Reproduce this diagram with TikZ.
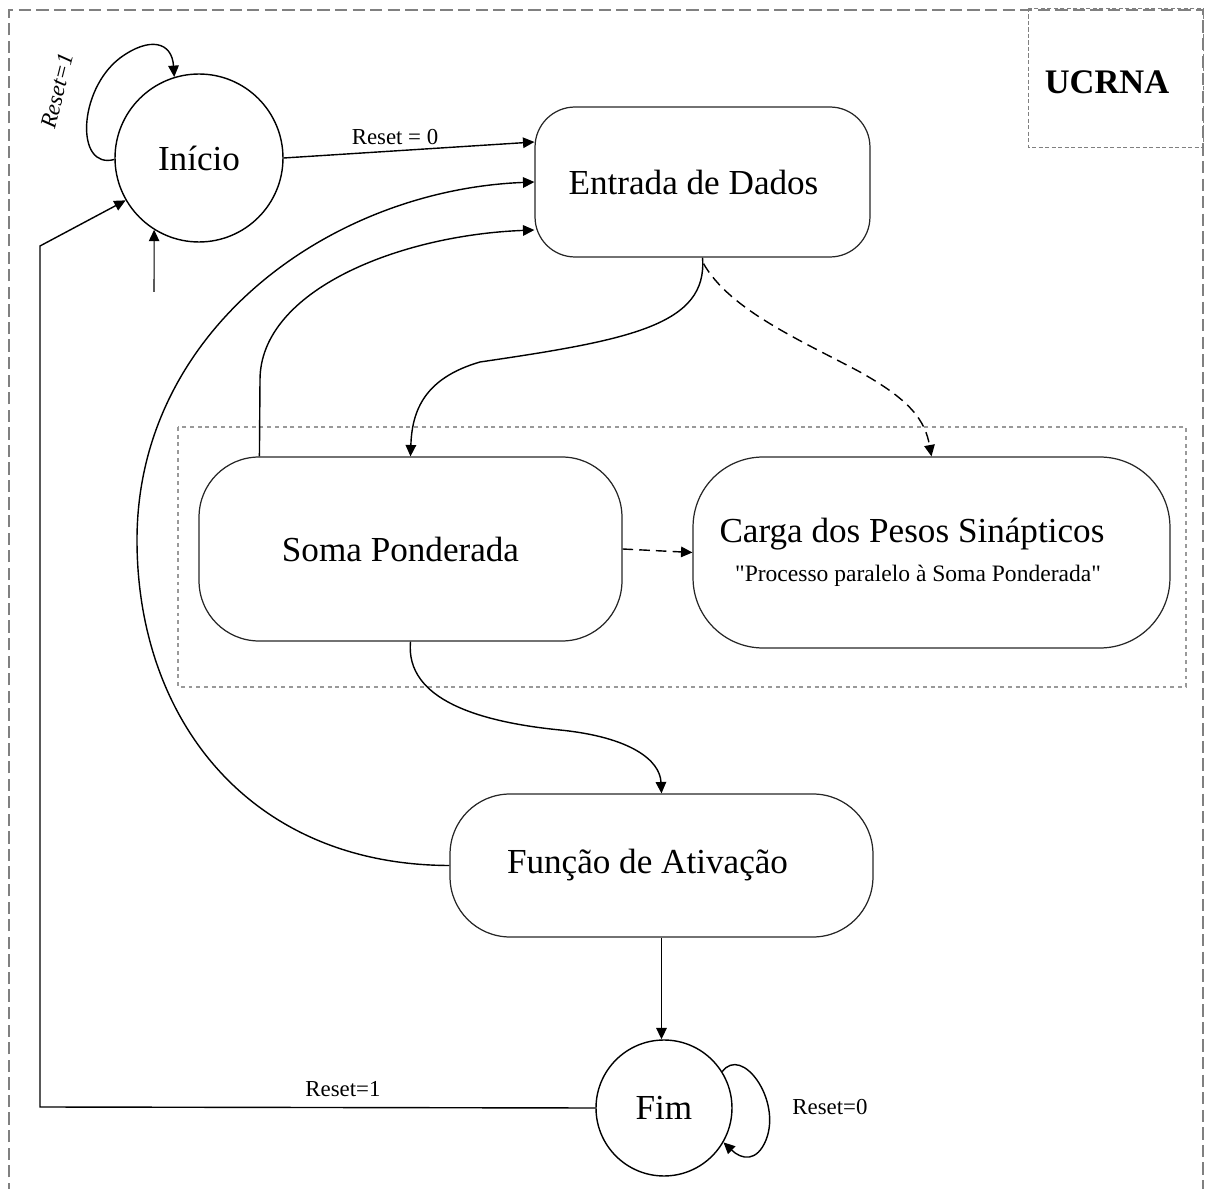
\documentclass[tikz,border=0pt]{standalone}
\usepackage{fontspec}
\setmainfont{Liberation Serif}
\newfontfamily\plainserif{Liberation Serif}[Ligatures=TeXOff]
\usetikzlibrary{arrows.meta,calc}
\tikzset{
  state/.style={draw, circle, line width=0.8pt, inner sep=0pt, font=\fontsize{20}{24}\selectfont},
  blk/.style={draw=black!85, rectangle, line width=0.7pt, inner sep=0pt, font=\fontsize{20}{24}\selectfont, align=center},
  arr/.style={-{Triangle[length=6.5pt,width=6pt]}, line width=0.8pt},
  dasharr/.style={arr, dash pattern=on 6pt off 3.5pt},
  lbl/.style={font=\fontsize{13}{15}\selectfont, inner sep=1pt},
}
\begin{document}
\begin{tikzpicture}[x=0.02cm,y=-0.02cm]
\useasboundingbox (0,0) rectangle (1205,1189);
% outer frame
\draw[gray, line width=0.6pt, dash pattern=on 7pt off 3pt] (9,1195) -- (9,10) -- (1203,10) -- (1203,1195);
% UCRNA box
\draw[gray, line width=0.5pt, dash pattern=on 2.5pt off 1.2pt] (1028,8) rectangle (1203,147);
\node[font=\fontsize{19.6}{22}\selectfont\bfseries] (ucrna) at (1107,82) {UCRNA};
% group box
\draw[black!40, line width=1.1pt, dash pattern=on 2.2pt off 2.2pt] (178,427) rectangle (1186,687);

% states
\node[state, minimum size=3.36cm] (ini) at (199,158) {Início};
\node[state, minimum size=2.72cm] (fim) at (664,1108) {Fim};
\node[blk, minimum width=6.7cm, minimum height=3cm, rounded corners=0.8cm] (ent) at (702.5,182) {Entrada de Dados\hspace*{0.36cm}};
\node[blk, minimum width=8.46cm, minimum height=3.68cm, rounded corners=1.2cm] (soma) at (410.5,549) {Soma Ponderada\hspace*{0.4cm}};
\node[blk, minimum width=9.54cm, minimum height=3.82cm, rounded corners=1.4cm] (carga) at (931.5,552.5)
  {Carga dos Pesos Sinápticos\hspace*{0.78cm}\\[-2pt]{\plainserif\fontsize{13.4}{16}\selectfont "Processo paralelo à Soma Ponderada"\hspace*{0.54cm}}};
\node[blk, minimum width=8.46cm, minimum height=2.86cm, rounded corners=1.2cm] (fun) at (661.5,865.5) {\raisebox{-0.1cm}{Função de Ativação}\hspace*{0.56cm}};

% coordinates
\coordinate (inb) at (154,292);
\coordinate (rb) at (40,1107);
\coordinate (rt) at (40,246);

% Inicio self loop
\draw[arr] (ini.181) .. controls (75,170) and (78,90) .. (120,58) .. controls (150,36) and (172,42) .. (ini.107);
\node[lbl, font=\fontsize{13}{15}\selectfont\itshape, rotate=76] (r1a) at (57,91) {Reset=1};
% incoming from below
\draw[arr, line width=0.6pt] (inb) -- (ini.238);
% Reset = 0
\draw[arr] (ini.east) -- ($(ent.west)+(0,-40)$);
\node[lbl] (r0a) at (395,137) {Reset = 0};
% Funcao -> Entrada
\draw[arr] (fun.west) .. controls (250,865) and (137,720) .. (137,540) .. controls (137,330) and (330,190) .. (ent.west);
% Soma -> Entrada
\draw[arr] ($(soma.north west)+(61,0)$) -- (260,380) .. controls (260,290) and (400,235) .. ($(ent.west)+(0,48)$);
% Entrada -> Soma
\draw[arr] (ent.south) .. controls (708,325) and (630,340) .. (480,362) .. controls (425,378) and (412,410) .. (soma.north);
% Entrada -> Carga (dashed)
\draw[dasharr] ($(ent.south)+(1,6)$) .. controls (730,310) and (800,340) .. (860,372) .. controls (910,400) and (925,420) .. (carga.north);
% Soma -> Carga (dashed)
\draw[dasharr] (soma.east) -- (carga.west);
% Soma -> Funcao
\draw[arr] (soma.south) .. controls (405,700) and (480,722) .. (560,730) .. controls (630,737) and (660,760) .. (fun.north);
% Funcao -> Fim
\draw[arr] (fun.south) -- (fun.south |- fim.north);
% Fim self loop
\draw[arr] (fim.32) .. controls (742,1045) and (782,1100) .. (766,1140) .. controls (757,1162) and (742,1160) .. (fim.-30);
\node[lbl] (r0b) at (830,1107) {Reset=0};
% Fim -> Inicio
\draw[line width=0.6pt, arr] (fim.west) -- (rb) -- (rt) -- (ini.210);
\node[lbl] (r1b) at (343,1089) {Reset=1};
\end{tikzpicture}
\end{document}
